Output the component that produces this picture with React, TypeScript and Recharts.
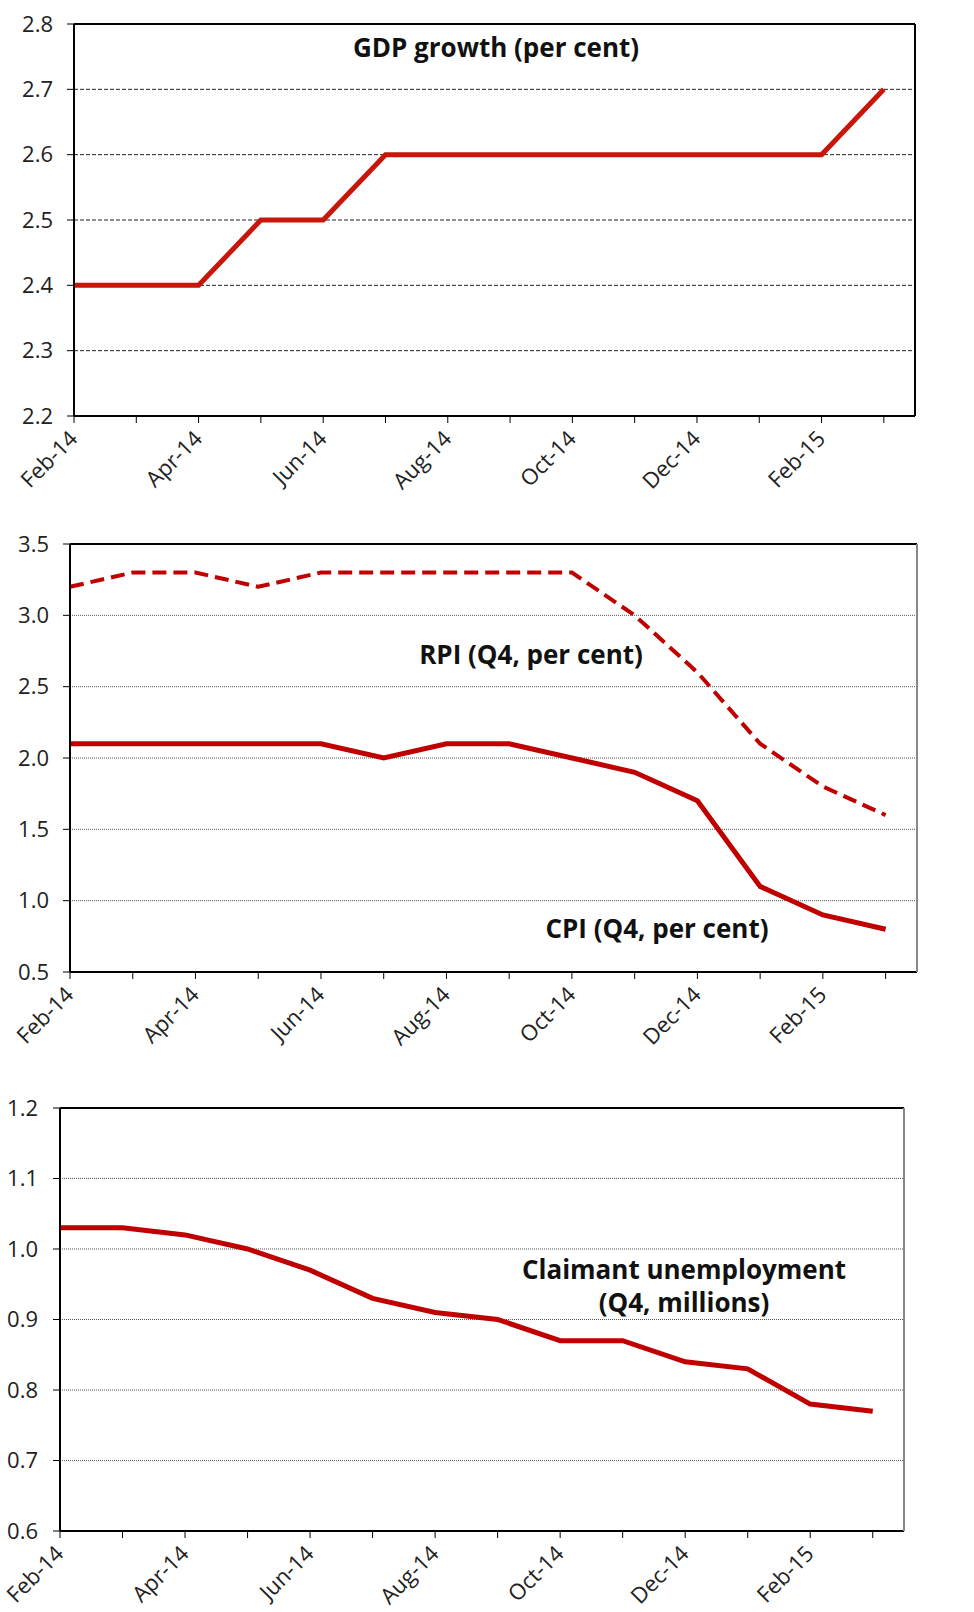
import React from "react";
import { LineChart, Line, XAxis, YAxis, CartesianGrid, ReferenceLine } from "recharts";

const months = ["Feb-14", "Mar-14", "Apr-14", "May-14", "Jun-14", "Jul-14", "Aug-14", "Sep-14", "Oct-14", "Nov-14", "Dec-14", "Jan-15", "Feb-15", "Mar-15"];

const gdp = [2.4, 2.4, 2.4, 2.5, 2.5, 2.6, 2.6, 2.6, 2.6, 2.6, 2.6, 2.6, 2.6, 2.7];
const rpi = [3.2, 3.3, 3.3, 3.2, 3.3, 3.3, 3.3, 3.3, 3.3, 3.0, 2.6, 2.1, 1.8, 1.6];
const cpi = [2.1, 2.1, 2.1, 2.1, 2.1, 2.0, 2.1, 2.1, 2.0, 1.9, 1.7, 1.1, 0.9, 0.8];
const claimant = [1.03, 1.03, 1.02, 1.0, 0.97, 0.93, 0.91, 0.9, 0.87, 0.87, 0.84, 0.83, 0.78, 0.77];

const gdpTicks = [2.2, 2.3, 2.4, 2.5, 2.6, 2.7, 2.8];
const inflTicks = [0.5, 1.0, 1.5, 2.0, 2.5, 3.0, 3.5];
const claimTicksLeft = [0.6, 0.7, 0.8, 0.9, 1.0, 1.1, 1.2];
const claimTicksRight = [0.6, 0.8, 1.0, 1.2];

const xTicks = months.map((_, i) => i);
const FONT = "'Open Sans', 'Noto Sans', sans-serif";
const RED = "#c00000";

const gdpData = months.map((m, i) => ({ i, month: m, gdp: gdp[i] }));
const inflData = months.map((m, i) => ({ i, month: m, rpi: rpi[i], cpi: cpi[i] }));
const claimData = months.map((m, i) => ({ i, month: m, claimant: claimant[i] }));

const tickStyle = { fontSize: 22, fill: "#222", fontFamily: FONT };
const fmt = (v: number) => v.toFixed(1);

function MonthTick({ x, y, payload }: any) {
  if (payload.value % 2 !== 0) return <g />;
  return (
    <g transform={`translate(${x + 5},${y + 15})`}>
      <text transform="rotate(-45)" textAnchor="end" fontSize={22} fill="#222" fontFamily={FONT}>
        {months[payload.value]}
      </text>
    </g>
  );
}

function Title({ x, y, children }: { x: number; y: number; children: React.ReactNode }) {
  return (
    <div style={{
      position: "absolute", left: x, top: y, transform: "translate(-50%, -50%)",
      fontFamily: FONT, fontWeight: 700, fontSize: 26, color: "#111", whiteSpace: "nowrap", textAlign: "center", lineHeight: "33px",
    }}>
      {children}
    </div>
  );
}

export default function App() {
  return (
    <div style={{ position: "absolute", left: 0, top: 0, width: 974, height: 1612, background: "#fff" }}>
      {/* GDP */}
      <div style={{ position: "absolute", left: 0, top: 0 }}>
        <LineChart width={974} height={510} data={gdpData} margin={{ top: 24, right: 0, bottom: 0, left: 0 }}>
          <CartesianGrid yAxisId="left" vertical={false} stroke="#222" strokeDasharray="4 2" />
          <XAxis dataKey="i" type="number" domain={[0, 13.5]} ticks={xTicks} interval={0} height={94}
            tick={<MonthTick />} tickSize={7} axisLine={{ stroke: "#000", strokeWidth: 2 }} tickLine={{ stroke: "#000" }} />
          <YAxis yAxisId="left" width={74} domain={[2.2, 2.8]} ticks={gdpTicks} tickFormatter={fmt} tick={tickStyle}
            tickSize={7} tickMargin={14} axisLine={{ stroke: "#000", strokeWidth: 2 }} tickLine={{ stroke: "#000" }} />
          <YAxis yAxisId="right" orientation="right" width={59} domain={[2.2, 2.8]} ticks={gdpTicks} tickFormatter={fmt} tick={tickStyle}
            tickSize={7} tickMargin={14} axisLine={{ stroke: "#000", strokeWidth: 2 }} tickLine={{ stroke: "#000" }} />
          <ReferenceLine yAxisId="left" y={2.8} stroke="#000" strokeWidth={2} />
          <Line yAxisId="left" dataKey="gdp" stroke="#c8160a" strokeWidth={5} dot={false} activeDot={false} isAnimationActive={false} />
        </LineChart>
      </div>

      {/* CPI / RPI */}
      <div style={{ position: "absolute", left: 0, top: 520 }}>
        <LineChart width={974} height={545} data={inflData} margin={{ top: 24, right: 0, bottom: 0, left: 0 }}>
          <CartesianGrid yAxisId="left" vertical={false} stroke="#555" strokeDasharray="1 1" />
          <XAxis dataKey="i" type="number" domain={[0, 13.5]} ticks={xTicks} interval={0} height={93}
            tick={<MonthTick />} tickSize={7} axisLine={{ stroke: "#000", strokeWidth: 2 }} tickLine={{ stroke: "#000" }} />
          <YAxis yAxisId="left" width={70} domain={[0.5, 3.5]} ticks={inflTicks} tickFormatter={fmt} tick={tickStyle}
            tickSize={7} tickMargin={14} axisLine={{ stroke: "#000", strokeWidth: 2 }} tickLine={{ stroke: "#000" }} />
          <YAxis yAxisId="right" orientation="right" width={57} domain={[0.5, 3.5]} ticks={inflTicks} tickFormatter={fmt} tick={tickStyle}
            tickSize={7} tickMargin={14} axisLine={{ stroke: "#888", strokeWidth: 2 }} tickLine={{ stroke: "#888" }} />
          <ReferenceLine yAxisId="left" y={3.5} stroke="#000" strokeWidth={2} />
          <Line yAxisId="left" dataKey="rpi" stroke={RED} strokeWidth={4} strokeDasharray="14 7" dot={false} activeDot={false} isAnimationActive={false} />
          <Line yAxisId="left" dataKey="cpi" stroke={RED} strokeWidth={5} dot={false} activeDot={false} isAnimationActive={false} />
        </LineChart>
      </div>

      {/* Claimant */}
      <div style={{ position: "absolute", left: 0, top: 1084 }}>
        <LineChart width={974} height={528} data={claimData} margin={{ top: 24, right: 0, bottom: 0, left: 0 }}>
          <CartesianGrid yAxisId="left" vertical={false} stroke="#555" strokeDasharray="1 1" />
          <XAxis dataKey="i" type="number" domain={[0, 13.5]} ticks={xTicks} interval={0} height={81}
            tick={<MonthTick />} tickSize={7} axisLine={{ stroke: "#000", strokeWidth: 2 }} tickLine={{ stroke: "#000" }} />
          <YAxis yAxisId="left" width={60} domain={[0.6, 1.2]} ticks={claimTicksLeft} tickFormatter={fmt} tick={tickStyle}
            tickSize={7} tickMargin={15} axisLine={{ stroke: "#000", strokeWidth: 2 }} tickLine={{ stroke: "#000" }} />
          <YAxis yAxisId="right" orientation="right" width={70} domain={[0.6, 1.2]} ticks={claimTicksRight} tickFormatter={fmt} tick={tickStyle}
            tickSize={7} tickMargin={15} axisLine={{ stroke: "#888", strokeWidth: 2 }} tickLine={{ stroke: "#888" }} />
          <ReferenceLine yAxisId="left" y={1.2} stroke="#000" strokeWidth={2} />
          <Line yAxisId="left" dataKey="claimant" stroke={RED} strokeWidth={5} dot={false} activeDot={false} isAnimationActive={false} />
        </LineChart>
      </div>

      <Title x={496} y={47}>GDP growth (per cent)</Title>
      <Title x={531} y={654}>RPI (Q4, per cent)</Title>
      <Title x={657} y={928}>CPI (Q4, per cent)</Title>
      <Title x={684} y={1286}>Claimant unemployment<br />(Q4, millions)</Title>
    </div>
  );
}
